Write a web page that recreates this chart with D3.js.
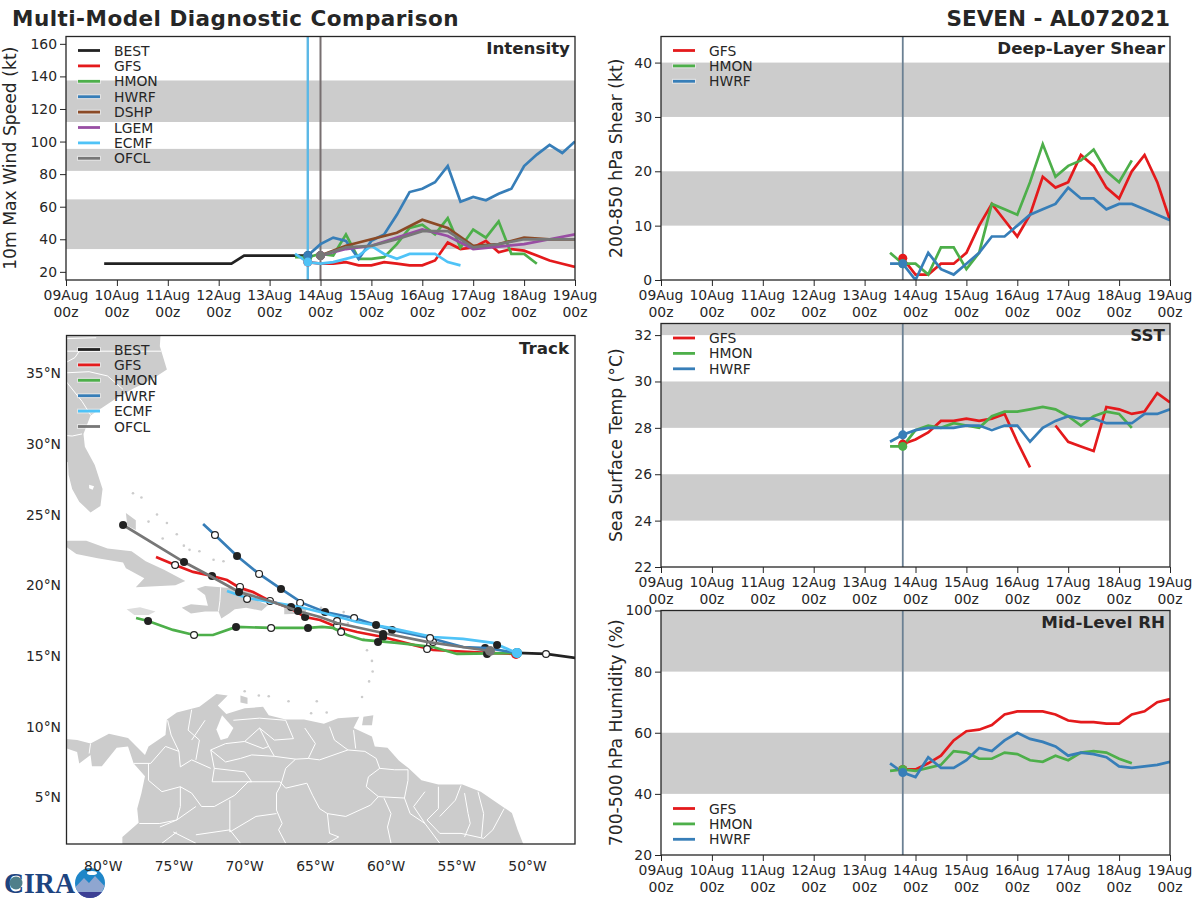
<!DOCTYPE html>
<html>
  <head>
    <title>Multi-Model Diagnostic Comparison</title>
    <style>
      body { margin: 0; background: #fff; }
      text { font-family: "DejaVu Sans", sans-serif; fill: #262626; }
    </style>
  </head>
  <body>
    <script src="https://d3js.org/d3.v7.min.js"></script>
    <script>

      // intensity (kt), 6-hourly unless noted, first value at the *Start day of Aug
      var bestStart = 9.75;
      var bestWind = [25, 25, 25, 25, 25, 25, 25, 25, 25, 25, 25, 30, 30, 30, 30, 30, 30];
      var gfsWindStart = 13.75;
      var gfsWind = [26, 25, 25, 26, 24, 24, 26, 25, 24, 24, 27, 38, 34, 35, 39, 32, 34, 33, 30, 27, 25, 23];
      var hmonWindStart = 13.5;
      var hmonWind = [29, 29, 31, 30, 43, 28, 28, 29, 37, 47, 49, 43, 53, 35, 46, 41, 51, 31, 31, 25];
      var hwrfWindStart = 13.75;
      var hwrfWind = [30, 37, 41, 39, 28, 39, 43, 55, 69, 71, 75, 85, 63, 66, 64, 68, 71, 85, 92, 98, 93, 100];
      var ecmfWindStart = 13.5;
      var ecmfWind = [31, 26, 25, 26, 28, 30, 36, 31, 28, 31, 31, 31, 26, 24];
      // 12-hourly from 14Aug 00z
      var dshpWind = [30, 36, 40, 44, 52, 47, 36, 37, 41, 40, 40];
      var lgemWind = [30, 34, 36, 41, 46, 42, 34, 35.5, 37, 40, 43];
      var ofclWind = [30, 35, 36, 40, 45, 45, 35, 37, 40, 40, 40];

      // shear (kt)
      var gfsShear = [4, 1, 1, 3, 3, 5, 10, 14, 11, 8, 12, 19, 17, 18, 23, 21, 17, 15, 20, 23, 18, 11];
      var hmonShear = [5, 3, 3, 1, 6, 6, 2, 5, 14, 13, 12, 18, 25, 19, 21, 22, 24, 20, 18, 22];
      var hwrfShear = [3, 3, 0, 5, 2, 1, 3, 5, 8, 8, 10, 12, 13, 14, 17, 15, 15, 13, 14, 14, 13, 12, 11];

      // sst (C)
      var gfsSst = [27.3, 27.5, 27.8, 28.3, 28.3, 28.4, 28.3, 28.4, 28.6, 27.4, 26.3, null, 28.1, 27.4, 27.2, 27.0, 28.9, 28.8, 28.6, 28.7, 29.5, 29.1];
      var hmonSst = [27.2, 27.2, 27.9, 28.1, 28.0, 28.2, 28.1, 28.0, 28.5, 28.7, 28.7, 28.8, 28.9, 28.8, 28.5, 28.1, 28.5, 28.7, 28.6, 28.0];
      var hwrfSst = [27.4, 27.7, 27.9, 28.0, 28.0, 28.0, 28.1, 28.1, 27.9, 28.1, 28.1, 27.4, 28.0, 28.3, 28.5, 28.4, 28.4, 28.2, 28.2, 28.2, 28.6, 28.6, 28.8];

      // mid-level rh (%)
      var gfsRh = [48, 48, 50, 52.5, 57.5, 60.5, 61, 62.5, 66, 67, 67, 67, 66, 64, 63.5, 63.5, 63, 63, 66, 67, 70, 71];
      var hmonRh = [47.5, 48, 47.5, 48.5, 49.5, 54, 53.5, 51.5, 51.5, 53.5, 53, 51, 50.5, 52.5, 51, 53.5, 54, 53.5, 51.5, 50];
      var hwrfRh = [50, 47, 45.5, 52, 48.5, 48.5, 51, 55, 54, 57.5, 60, 58, 57, 55.5, 52.5, 53.5, 53, 52, 49, 48.5, 49, 49.5, 50.5];

      var dayTicks = [9, 10, 11, 12, 13, 14, 15, 16, 17, 18, 19];
      var windTicks = [20, 40, 60, 80, 100, 120, 140, 160];
      var shearTicks = [0, 10, 20, 30, 40];
      var sstTicks = [22, 24, 26, 28, 30, 32];
      var rhTicks = [20, 40, 60, 80, 100];
      var lonTicks = [-80, -75, -70, -65, -60, -55, -50];
      var latTicks = [5, 10, 15, 20, 25, 30, 35];

      var windBands = [[34, 64.5], [82, 95.5], [112, 137.5]];
      var shearBands = [[10, 20], [30, 40]];
      var sstBands = [[24, 26], [28, 30], [32, 32.5]];
      var rhBands = [[40, 60], [80, 100]];

      var colors = {
        BEST: '#222222', GFS: '#e41a1c', HMON: '#4daf4a', HWRF: '#377eb8',
        DSHP: '#8b4a26', LGEM: '#984ea3', ECMF: '#4fc3f7', OFCL: '#777777'
      };

      // tracks [lon, lat]
      var bestTrack = [[-46.6, 14.86], [-48.69, 15.14], [-50.74, 15.21]];
      var gfsTrack = [[-50.81, 15.14], [-52.86, 15.21], [-56.68, 15.42], [-58.09, 15.78], [-60.21, 16.34], [-62.05, 16.69], [-63.47, 17.05], [-64.67, 17.54], [-65.73, 17.75], [-66.79, 18.39], [-68.35, 18.96], [-69.41, 19.52], [-70.33, 19.81], [-71.25, 20.37], [-72.31, 20.65], [-73.65, 20.94], [-74.92, 21.43], [-76.27, 22.0]];
      var hmonTrack = [[-50.74, 15.21], [-54.98, 15.14], [-56.68, 15.63], [-59.22, 15.92], [-61.63, 16.13], [-62.76, 16.48], [-63.75, 16.98], [-64.53, 17.05], [-65.52, 16.98], [-68.13, 16.98], [-70.61, 17.05], [-72.24, 16.48], [-73.58, 16.48], [-75.07, 16.84], [-76.83, 17.47], [-77.68, 17.68]];
      var hwrfTrack = [[-50.74, 15.21], [-52.86, 15.56], [-54.56, 15.63], [-56.89, 16.27], [-59.58, 16.84], [-60.71, 17.19], [-62.26, 17.68], [-64.32, 18.11], [-65.94, 18.75], [-67.43, 19.74], [-68.98, 20.8], [-70.54, 22.07], [-72.1, 23.55], [-72.94, 24.33]];
      var ecmfTrack = [[-50.74, 15.21], [-52.43, 15.92], [-54.56, 16.2], [-56.68, 16.34], [-59.72, 16.98], [-62.05, 17.4], [-64.67, 18.11], [-66.08, 18.46], [-68.21, 18.82], [-69.83, 19.1], [-71.25, 19.59]];
      var ofclTrack = [[-52.65, 15.35], [-57.1, 15.99], [-60.21, 16.62], [-63.47, 17.33], [-64.67, 17.75], [-66.23, 18.18], [-68.21, 18.89], [-70.4, 19.52], [-72.31, 20.58], [-74.29, 21.64], [-78.6, 24.26]];

      // positions marked along the tracks
      var bestOpen = [[-48.69, 15.14]];
      var gfsFilled = [[-53, 15.56], [-60.21, 16.34], [-65.73, 17.75], [-72.31, 20.65]];
      var gfsOpen = [[-56.89, 15.78], [-63.47, 17.12], [-68.21, 18.89], [-70.33, 19.88], [-74.92, 21.43]];
      var hmonFilled = [[-52.86, 15.14], [-60.57, 15.99], [-65.52, 16.98], [-70.61, 17.05], [-76.83, 17.47]];
      var hmonOpen = [[-57.1, 15.49], [-63.18, 16.69], [-68.13, 16.98], [-73.58, 16.48]];
      var hwrfFilled = [[-59.58, 16.84], [-64.32, 18.11], [-67.43, 19.74], [-70.54, 22.07]];
      var hwrfOpen = [[-56.68, 15.99], [-62.26, 17.68], [-66.08, 18.75], [-68.98, 20.8], [-72.1, 23.55]];
      var ecmfFilled = [[-52.15, 15.78], [-60.71, 17.19], [-66.72, 18.46]];
      var ecmfOpen = [[-56.89, 16.27], [-63.47, 17.47], [-69.83, 19.03]];
      var ofclFilled = [[-60.21, 16.55], [-66.23, 18.18], [-70.4, 19.52], [-74.29, 21.64], [-78.6, 24.26]];

      // land outlines [lon, lat]
      var southAmerica = [[-83, 9.17], [-81.85, 9.05], [-80.9, 8.8], [-79.6, 9.5], [-78.25, 9.2], [-77.05, 8], [-76.8, 8.6], [-75.6, 9.4], [-75.5, 10.5], [-74.8, 11], [-73.2, 11.4], [-72, 12.3], [-71.2, 12.2], [-71.9, 11.5], [-71.3, 10.9], [-70, 11.3], [-68.7, 11.4], [-68.3, 10.8], [-67.1, 10.5], [-65.8, 10.5], [-64.4, 10.2], [-63.4, 10.6], [-61.9, 10.7], [-62.3, 9.9], [-61, 9.3], [-60.8, 8.6], [-59.9, 8.5], [-59.1, 7.6], [-58.4, 7.05], [-57.5, 6.2], [-56.3, 5.9], [-54.6, 5.9], [-53.3, 5.4], [-51.7, 4.3], [-51.1, 3.9], [-50.7, 2.7], [-50.3, 1.7], [-50.3, 1], [-78.65, 1], [-78.65, 2.2], [-77.5, 3.2], [-77.6, 4.2], [-77.3, 5.3], [-77.05, 6.5], [-77.85, 7.4], [-78.25, 8.6], [-79.05, 8.5], [-80.1, 7.2], [-80.8, 7.2], [-80.9, 8], [-81.7, 7.4], [-81.85, 8.2], [-83, 8.6]];
      var usaFlorida = [[-75.9, 38.5], [-76, 36.9], [-75.5, 35.25], [-76.5, 34.6], [-77.9, 33.9], [-79.1, 33.2], [-80.9, 32], [-81.4, 30.7], [-81.3, 29.8], [-80.6, 28.5], [-80.05, 26.8], [-80.2, 25.6], [-80.9, 25.15], [-81.7, 25.9], [-82.2, 26.8], [-82.45, 27.8], [-82.5, 28.7], [-83.5, 29.2], [-84, 38.5]];
      var cuba = [[-84.9, 21.9], [-83.2, 22.9], [-82.5, 23.15], [-81.2, 23.15], [-79.7, 22.6], [-78, 22.4], [-77, 21.7], [-75.7, 21.1], [-74.2, 20.3], [-74.9, 20], [-77.7, 19.85], [-77.1, 20.5], [-78.4, 21.2], [-78.6, 21.6], [-80.4, 21.9], [-81.9, 22.2], [-82.6, 22.7], [-83.5, 22.1]];
      var hispaniola = [[-74.45, 18.4], [-73.8, 18.65], [-72.6, 18.55], [-72.8, 19.3], [-73.4, 19.75], [-72.8, 19.95], [-71.7, 19.85], [-70.5, 19.75], [-69.9, 19.6], [-69.2, 19.3], [-69.6, 19.1], [-68.35, 18.6], [-68.8, 18.2], [-69.9, 18.4], [-70.7, 18.3], [-71.1, 18], [-71.65, 17.65], [-71.85, 18.15], [-72.8, 18.15], [-73.8, 18]];
      var jamaica = [[-78.35, 18.3], [-77.4, 18.45], [-76.3, 18.15], [-76.8, 17.9], [-77.8, 17.9]];
      var puertoRico = [[-67.2, 18.5], [-65.6, 18.4], [-65.7, 18], [-67.2, 17.95]];
      var andros = [[-78.4, 25.1], [-77.7, 24.6], [-77.7, 23.9], [-78.3, 24.2]];
      var paraguana = [[-70.3, 11.7], [-70.3, 12.2], [-69.8, 12.05], [-69.8, 11.6]];
      var trinidad = [[-61.6, 10.7], [-60.9, 10.8], [-61, 10.1], [-61.7, 10.1]];
      var islandDots = [[-61.6, 16.2], [-61.35, 15.4], [-61, 14.65], [-60.95, 13.9], [-61.2, 13.2], [-61.7, 12.1], [-62.7, 17.3], [-63, 18.1], [-64.6, 18.4], [-66.3, 18.45], [-77.9, 26.5], [-77.3, 26.2], [-76.2, 25], [-75.5, 24.4], [-74.8, 23.6], [-73.9, 22.5], [-73.2, 22.4], [-72.2, 21.8], [-71.5, 21.7], [-75.8, 23.3], [-76.8, 24.5], [-79, 21.9], [-74.3, 22.8], [-70, 12.5], [-69, 12.2], [-68.3, 12.15], [-64.2, 11], [-64.9, 11.8], [-66.9, 11.8], [-65.3, 10.95]];
      var lakes = [[[-72, 9.8], [-71.6, 10.8], [-70.8, 9.9], [-71.2, 9.2], [-71.7, 9.05]], [[-81, 27.1], [-80.65, 27], [-80.75, 26.75], [-81, 26.85]]];
      var borders = [
        [[-72.4, 8.35], [-71.35, 7.5], [-70.3, 7.75], [-69.5, 8], [-67.9, 7.9], [-66.4, 7.7], [-65.5, 7.75], [-64.7, 7.65], [-62.7, 8.35], [-61.5, 8.25], [-60.7, 7.75], [-60.45, 7.05], [-59.4, 6.95]],
        [[-66.4, 7.7], [-67.1, 7.05], [-67.35, 6.2], [-67.5, 5.75], [-67.75, 5.3], [-67.75, 4.1], [-67.35, 3.15], [-67.6, 2.7], [-67.1, 1.75]],
        [[-60.45, 7.05], [-61.25, 6.45], [-61.4, 5.75], [-60.55, 5.05], [-61.1, 4.45], [-62.85, 3.65], [-64.15, 3.85], [-64.7, 4.2], [-65.2, 5.15], [-65.6, 6], [-67.1, 5.65], [-67.5, 6.1]],
        [[-67.5, 6.1], [-69.75, 6.1], [-70.7, 5.15], [-72.15, 4.35], [-73.05, 4.35], [-73.75, 5.3], [-74.55, 5.75]],
        [[-72.15, 7.05], [-70, 6.8], [-69.5, 6.1], [-72.3, 6.1], [-72.15, 7.05]],
        [[-60.55, 5.05], [-58.7, 4.95], [-58.45, 6.2], [-58.45, 6.95], [-59.4, 6.95]],
        [[-60.15, 4.95], [-59.65, 3.85], [-59.9, 2.9], [-59.65, 1.75]],
        [[-58.7, 4.95], [-58.3, 3.85], [-57.25, 3.15], [-56.2, 1.75]],
        [[-64.15, 3.85], [-64, 2.45], [-63.35, 2.2], [-64.15, 1.75]],
        [[-71.05, 4.8], [-71.05, 2.55], [-69.2, 3.65], [-67.75, 3.85]],
        [[-73.45, 2.35], [-71.05, 2.7], [-70.3, 1.75]],
        [[-57.25, 5.4], [-58.05, 4.35], [-57.25, 3.15]],
        [[-56.3, 5.75], [-56.3, 4.2], [-57.1, 3.4], [-56.2, 2.45], [-54.7, 2.45], [-53.1, 2.1]],
        [[-54.45, 5.3], [-54.2, 3.85], [-54.05, 3.15], [-54.45, 2.2]],
        [[-53.5, 5.4], [-53.1, 3.85], [-53.25, 2.2]],
        [[-51.65, 4.2], [-52.45, 2.7], [-53.1, 2.1]],
        [[-54.7, 5.85], [-55.1, 4.8], [-56.2, 3.65]],
        [[-75.45, 10.45], [-75.2, 9.4], [-74.65, 8.25], [-74.55, 7.15], [-73.75, 7.65], [-72.4, 7.05]],
        [[-73.75, 11.2], [-74, 9.75], [-73.2, 9.05], [-73.45, 7.65]],
        [[-72.8, 10.45], [-73.75, 9.05]],
        [[-76.8, 7.4], [-76.8, 6.2], [-75.85, 5.4], [-74.55, 5.75], [-74.55, 4.35], [-74.8, 3.4], [-76, 2.9]],
        [[-77.85, 7.4], [-76.65, 7.4], [-75.6, 8.6], [-74.65, 8.25]],
        [[-72.15, 7.05], [-72.4, 8.35], [-71.35, 8.8], [-70, 8.95], [-68.95, 9.9], [-68.3, 8.6], [-67.9, 7.9]],
        [[-70, 8.95], [-68.7, 8.45], [-68.3, 8.6]],
        [[-67.1, 10.45], [-66.55, 9.15], [-67.9, 9.05], [-68.95, 9.9]],
        [[-65.75, 9.9], [-65, 8.8], [-65.5, 7.75]],
        [[-70.8, 10.45], [-68.95, 10.6], [-67.1, 10.45]],
        [[-64, 10], [-63.65, 9.05], [-62.7, 8.35]],
        [[-62.3, 9.75], [-62.15, 8.45]],
        [[-77.45, 3.15], [-76, 3.15], [-74.8, 3.4], [-73.45, 4.35]],
        [[-74.8, 2.55], [-75.85, 1.75]],
        [[-75.05, 2.55], [-73.45, 1.75]],
        [[-80.9, 8.8], [-81, 8.1]],
        [[-84, 37.4], [-80.5, 37.5]],
        [[-84, 36.55], [-75.9, 36.55]],
        [[-84, 35], [-82, 36.1], [-81.7, 36.55]],
        [[-83.1, 35], [-81, 35.1], [-79.7, 34.8], [-78.6, 33.85]],
        [[-83.1, 35], [-81.5, 33], [-80.9, 32.05]],
        [[-84, 30.7], [-82.2, 30.55], [-81.5, 30.7]],
        [[-71.7, 19.85], [-71.75, 18.9], [-71.85, 18.15]]
      ];

      var svg = d3.select('body').append('svg')
                  .attr('width', 1200).attr('height', 900);

      function makePoints(start, step, values) {
        return values.map(function (v, i) { return { t: start + i * step, v: v }; });
      }

      function drawLegend(g, names, x, y0, dy) {
        names.forEach(function (n, i) {
          var y = y0 + i * dy;
          g.append('line').attr('x1', x - 1).attr('x2', x + 23).attr('y1', y).attr('y2', y)
           .attr('stroke', '#ffffff').attr('stroke-width', 5).attr('opacity', 0.45);
          g.append('line').attr('x1', x).attr('x2', x + 22).attr('y1', y).attr('y2', y)
           .attr('stroke', colors[n]).attr('stroke-width', 2.8);
          g.append('text').attr('x', x + 36).attr('y', y + 5)
           .attr('font-size', 13.9).text(n);
        });
      }

      function timePanel(opt) {
        var g = svg.append('g');
        var x = d3.scaleLinear().domain([9, 19]).range([opt.left, opt.left + 509]);
        var y = d3.scaleLinear().domain(opt.domain).range([opt.top + opt.height, opt.top]);
        var clipId = 'clip' + Math.round(opt.top) + '-' + opt.left;

        g.append('clipPath').attr('id', clipId).append('rect')
         .attr('x', opt.left).attr('y', opt.top).attr('width', 509).attr('height', opt.height);

        g.selectAll('rect.band').data(opt.bands).enter().append('rect')
         .attr('class', 'band')
         .attr('x', opt.left).attr('width', 509)
         .attr('y', function (d) { return y(d[1]); })
         .attr('height', function (d) { return y(d[0]) - y(d[1]); })
         .attr('fill', '#cccccc');

        var plot = g.append('g').attr('clip-path', 'url(#' + clipId + ')');

        opt.vlines.forEach(function (v) {
          plot.append('line').attr('x1', x(v.t)).attr('x2', x(v.t))
              .attr('y1', opt.top).attr('y2', opt.top + opt.height)
              .attr('stroke', v.color).attr('stroke-width', v.width);
        });

        var line = d3.line()
                     .defined(function (d) { return d.v !== null; })
                     .x(function (d) { return x(d.t); })
                     .y(function (d) { return y(d.v); });

        opt.series.forEach(function (s) {
          plot.append('path').datum(s.points).attr('d', line)
              .attr('fill', 'none').attr('stroke', colors[s.name])
              .attr('stroke-width', 2.7).attr('stroke-linejoin', 'miter');
        });
        opt.series.forEach(function (s) {
          if (s.init === undefined) return;
          var p = s.points.filter(function (d) { return d.t === s.init; })[0];
          plot.append('circle').attr('cx', x(p.t)).attr('cy', y(p.v)).attr('r', 4.5)
              .attr('fill', colors[s.name]);
        });

        var xAxis = d3.axisBottom(x).tickValues(dayTicks).tickSize(6).tickPadding(4)
                      .tickFormat(function (d) { return ''; });
        var xMinor = d3.axisBottom(x).tickValues(d3.range(9, 19.01, 0.25)).tickSize(3)
                       .tickFormat(function (d) { return ''; });
        var yAxis = d3.axisLeft(y).tickValues(opt.ticks).tickSize(6).tickPadding(3);
        var yMinor = d3.axisLeft(y).tickValues(opt.minor).tickSize(3)
                       .tickFormat(function (d) { return ''; });

        var bottom = g.append('g').attr('transform', 'translate(0,' + (opt.top + opt.height) + ')');
        bottom.call(xMinor);
        bottom.call(xAxis);
        bottom.selectAll('.tick text').remove();
        dayTicks.forEach(function (d) {
          var label = bottom.append('text').attr('text-anchor', 'middle').attr('font-size', 13.9);
          label.append('tspan').attr('x', x(d)).attr('y', 20).text((d < 10 ? '0' : '') + d + 'Aug');
          label.append('tspan').attr('x', x(d)).attr('y', 37).text('00z');
        });

        var leftAxis = g.append('g').attr('transform', 'translate(' + opt.left + ',0)');
        leftAxis.call(yMinor);
        leftAxis.call(yAxis);
        leftAxis.selectAll('.tick text').attr('font-size', 13.9);

        g.selectAll('.domain').remove();
        g.selectAll('.tick line').attr('stroke', '#262626');

        g.append('rect').attr('x', opt.left).attr('y', opt.top).attr('width', 509).attr('height', opt.height)
         .attr('fill', 'none').attr('stroke', '#262626').attr('stroke-width', 1.3);

        g.append('text')
         .attr('transform', 'translate(' + opt.labelX + ',' + (opt.top + opt.height / 2) + ') rotate(-90)')
         .attr('text-anchor', 'middle').attr('font-size', 17.2).text(opt.label);

        g.append('text').attr('x', opt.left + 504).attr('y', opt.top + 17)
         .attr('text-anchor', 'end').attr('font-size', 16.7).attr('font-weight', 'bold').text(opt.title);

        drawLegend(g, opt.series.map(function (s) { return s.name; }), opt.left + 12, opt.legendY, opt.legendDy);
      }

      function trackPanel() {
        var left = 66.5, top = 335.5, size = 508.5;
        var lon = d3.scaleLinear().domain([-82.6, -46.64]).range([left, left + size]);
        var lat = d3.scaleLinear().domain([1.7, 37.66]).range([top + size, top]);
        var g = svg.append('g');

        g.append('clipPath').attr('id', 'clipTrack').append('rect')
         .attr('x', left).attr('y', top).attr('width', size).attr('height', size);

        var plot = g.append('g').attr('clip-path', 'url(#clipTrack)');
        var shape = d3.line().x(function (d) { return lon(d[0]); }).y(function (d) { return lat(d[1]); });
        var ring = d3.line().x(function (d) { return lon(d[0]); }).y(function (d) { return lat(d[1]); })
                     .curve(d3.curveLinearClosed);

        plot.selectAll('path.land')
            .data([southAmerica, usaFlorida, cuba, hispaniola, puertoRico, andros, paraguana, trinidad])
            .enter().append('path').attr('class', 'land').attr('d', ring).attr('fill', '#cccccc');
        plot.append('path').attr('d', ring(jamaica)).attr('fill', '#dddddd');
        plot.selectAll('circle.island').data(islandDots).enter().append('circle')
            .attr('class', 'island')
            .attr('cx', function (d) { return lon(d[0]); })
            .attr('cy', function (d) { return lat(d[1]); })
            .attr('r', 1.3).attr('fill', '#cccccc');
        plot.selectAll('path.lake').data(lakes).enter().append('path').attr('class', 'lake')
            .attr('d', ring).attr('fill', '#ffffff');
        plot.selectAll('path.border').data(borders).enter().append('path').attr('class', 'border')
            .attr('d', shape).attr('fill', 'none').attr('stroke', '#ffffff').attr('stroke-width', 1);

        var tracks = [
          { name: 'BEST', line: bestTrack, filled: [], open: bestOpen },
          { name: 'GFS', line: gfsTrack, filled: gfsFilled, open: gfsOpen },
          { name: 'HMON', line: hmonTrack, filled: hmonFilled, open: hmonOpen },
          { name: 'HWRF', line: hwrfTrack, filled: hwrfFilled, open: hwrfOpen },
          { name: 'ECMF', line: ecmfTrack, filled: ecmfFilled, open: ecmfOpen },
          { name: 'OFCL', line: ofclTrack, filled: ofclFilled, open: [] }
        ];

        tracks.forEach(function (t) {
          plot.append('path').datum(t.line).attr('d', shape).attr('fill', 'none')
              .attr('stroke', colors[t.name]).attr('stroke-width', 2.7);
          t.filled.forEach(function (d) {
            plot.append('circle').attr('cx', lon(d[0])).attr('cy', lat(d[1])).attr('r', 4).attr('fill', '#222222');
          });
          t.open.forEach(function (d) {
            plot.append('circle').attr('cx', lon(d[0])).attr('cy', lat(d[1])).attr('r', 3.4)
                .attr('fill', '#ffffff').attr('stroke', '#222222').attr('stroke-width', 1.2);
          });
          if (t.name !== 'BEST') {
            plot.append('circle').attr('cx', lon(t.line[0][0])).attr('cy', lat(t.line[0][1])).attr('r', 5)
                .attr('fill', colors[t.name]);
          }
        });

        lonTicks.forEach(function (d) {
          g.append('text').attr('x', lon(d)).attr('y', 871).attr('text-anchor', 'middle')
           .attr('font-size', 13.9).text(Math.abs(d) + '°W');
        });
        latTicks.forEach(function (d) {
          g.append('text').attr('x', 61).attr('y', lat(d) + 5).attr('text-anchor', 'end')
           .attr('font-size', 13.9).text(d + '°N');
        });

        g.append('rect').attr('x', left).attr('y', top).attr('width', size).attr('height', size)
         .attr('fill', 'none').attr('stroke', '#262626').attr('stroke-width', 1.3);
        g.append('text').attr('x', 569).attr('y', 354).attr('text-anchor', 'end')
         .attr('font-size', 16.7).attr('font-weight', 'bold').text('Track');
        drawLegend(g, ['BEST', 'GFS', 'HMON', 'HWRF', 'ECMF', 'OFCL'], 78, 349.5, 15.4);
      }

      function drawLogo() {
        var g = svg.append('g');
        g.append('text').attr('x', 4).attr('y', 893).attr('font-size', 30)
         .attr('textLength', 71).attr('lengthAdjust', 'spacingAndGlyphs')
         .style('font-family', '"Liberation Serif", serif').style('font-weight', 'bold')
         .style('fill', '#1d4480').text('CIRA');
        g.append('circle').attr('cx', 16).attr('cy', 883).attr('r', 6.5).attr('fill', '#4f7f8a');
        g.append('circle').attr('cx', 90).attr('cy', 883).attr('r', 15).attr('fill', '#1f86c8');
        g.append('path').attr('d', 'M75.5 887 L84 878 L89 883 L95 876 L104.5 886 A15 15 0 0 1 75.5 887 Z').attr('fill', '#8fa6d0');
        g.append('path').attr('d', 'M78 892 L102 892 A15 15 0 0 1 78 892 Z').attr('fill', '#3c3f94');
        g.append('ellipse').attr('cx', 92).attr('cy', 873).attr('rx', 5).attr('ry', 2).attr('fill', '#ffffff');
      }

      drawLogo();

      svg.append('text').attr('x', 12).attr('y', 26).attr('font-size', 21.5)
         .attr('font-weight', 'bold').attr('letter-spacing', 0.48).text('Multi-Model Diagnostic Comparison');
      svg.append('text').attr('x', 1170).attr('y', 26).attr('text-anchor', 'end').attr('font-size', 21.5)
         .attr('font-weight', 'bold').text('SEVEN - AL072021');

      var rightVlines = [{ t: 13.75, color: '#6b8093', width: 1.8 }];

      timePanel({
        left: 66, top: 36.5, height: 243.5, domain: [15, 164.5], bands: windBands, ticks: windTicks,
        minor: d3.range(15, 165, 5), label: '10m Max Wind Speed (kt)', title: 'Intensity',
        labelX: 16, legendY: 50.5, legendDy: 15.4,
        vlines: [{ t: 13.75, color: '#5bb8e6', width: 2.4 }, { t: 14, color: '#776f70', width: 2 }],
        series: [
          { name: 'BEST', points: makePoints(bestStart, 0.25, bestWind), init: 13.75 },
          { name: 'GFS', points: makePoints(gfsWindStart, 0.25, gfsWind), init: 13.75 },
          { name: 'HMON', points: makePoints(hmonWindStart, 0.25, hmonWind), init: 13.75 },
          { name: 'HWRF', points: makePoints(hwrfWindStart, 0.25, hwrfWind), init: 13.75 },
          { name: 'DSHP', points: makePoints(14, 0.5, dshpWind), init: 14 },
          { name: 'LGEM', points: makePoints(14, 0.5, lgemWind), init: 14 },
          { name: 'ECMF', points: makePoints(ecmfWindStart, 0.25, ecmfWind), init: 13.75 },
          { name: 'OFCL', points: makePoints(14, 0.5, ofclWind), init: 14 }
        ]
      });

      timePanel({
        left: 661, top: 36.5, height: 243.5, domain: [0, 44.8], bands: shearBands, ticks: shearTicks,
        minor: d3.range(0, 44.8, 2.5), label: '200-850 hPa Shear (kt)', title: 'Deep-Layer Shear',
        labelX: 622, legendY: 50.5, legendDy: 15.4, vlines: rightVlines,
        series: [
          { name: 'GFS', points: makePoints(13.75, 0.25, gfsShear), init: 13.75 },
          { name: 'HMON', points: makePoints(13.5, 0.25, hmonShear), init: 13.75 },
          { name: 'HWRF', points: makePoints(13.5, 0.25, hwrfShear), init: 13.75 }
        ]
      });

      timePanel({
        left: 661, top: 323.5, height: 243.5, domain: [22, 32.5], bands: sstBands, ticks: sstTicks,
        minor: d3.range(22, 32.6, 0.5), label: 'Sea Surface Temp (°C)', title: 'SST',
        labelX: 622, legendY: 338, legendDy: 15.4, vlines: rightVlines,
        series: [
          { name: 'GFS', points: makePoints(13.75, 0.25, gfsSst), init: 13.75 },
          { name: 'HMON', points: makePoints(13.5, 0.25, hmonSst), init: 13.75 },
          { name: 'HWRF', points: makePoints(13.5, 0.25, hwrfSst), init: 13.75 }
        ]
      });

      timePanel({
        left: 661, top: 610.5, height: 244.5, domain: [20, 100], bands: rhBands, ticks: rhTicks,
        minor: d3.range(20, 100.1, 5), label: '700-500 hPa Humidity (%)', title: 'Mid-Level RH',
        labelX: 622, legendY: 808.5, legendDy: 15.4, vlines: rightVlines,
        series: [
          { name: 'GFS', points: makePoints(13.75, 0.25, gfsRh), init: 13.75 },
          { name: 'HMON', points: makePoints(13.5, 0.25, hmonRh), init: 13.75 },
          { name: 'HWRF', points: makePoints(13.5, 0.25, hwrfRh), init: 13.75 }
        ]
      });

      trackPanel();

    </script>
  </body>
</html>
